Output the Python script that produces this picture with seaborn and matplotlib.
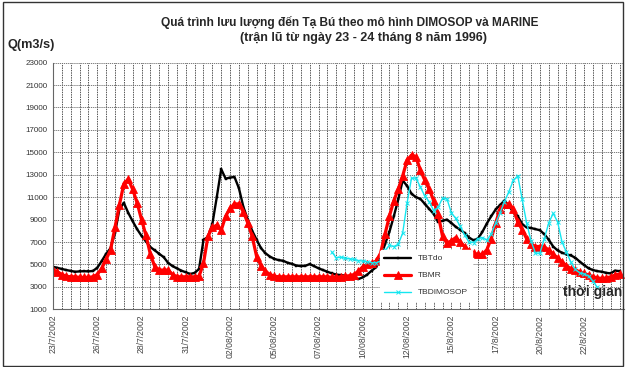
import numpy as np
import pandas as pd
import seaborn as sns
import matplotlib
matplotlib.use("Agg")
import matplotlib.pyplot as plt
from matplotlib.patches import Rectangle
from matplotlib.ticker import MultipleLocator

# ===============================
# Data (6-hourly steps from 23/7/2002)
# ===============================
tb_do = [4790, 4700, 4600, 4500, 4420, 4350, 4380, 4400, 4380, 4420,
         4700, 5300, 5950, 6450, 7800, 9900, 10500, 9600, 8850, 8150,
         7550, 7050, 6550, 6250, 5950, 5650, 5150, 4850, 4650, 4450,
         4300, 4150, 4250, 4600, 7200, 7450, 8600, 11000, 13500, 12650,
         12750, 12800, 11800, 10150, 9000, 8000, 7200, 6450, 6000, 5700,
         5500, 5380, 5330, 5150, 5050, 4900, 4850, 4880, 5030, 4850,
         4650, 4500, 4350, 4200, 4100, 4050, 4000, 3900, 3800, 3700,
         3850, 4100, 4450, 4750, 5600, 6800, 7900, 9300, 10800, 12500,
         12000, 11300, 11000, 10850, 10400, 9950, 9500, 8800, 8900, 9000,
         8700, 8350, 8100, 7800, 7400, 7150, 7300, 7900, 8650, 9300,
         9900, 10300, 10700, 10200, 9700, 9300, 8600, 8300, 8250, 8150,
         8050, 7700, 7200, 6600, 6250, 6050, 5900, 5800, 5600, 5250,
         4950, 4650, 4500, 4400, 4350, 4250, 4200, 4450, 4400]

tb_mr = [4500, 4350, 4100, 3950, 3900, 3900, 3850, 3850, 3850, 3900,
         4100, 4650, 5450, 6300, 8300, 10300, 12200, 12600, 11700, 10500,
         9000, 7600, 5900, 4800, 4500, 4500, 4500, 4100, 3900, 3900,
         3900, 3900, 3900, 3950, 5100, 7500, 8300, 8500, 8050, 9300,
         10000, 10400, 10400, 9700, 8700, 7500, 5700, 4900, 4400, 4100,
         3950, 3900, 3900, 3900, 3900, 3900, 3900, 3900, 3900, 3900,
         3900, 3900, 3900, 3850, 3850, 3900, 3950, 4000, 4100, 4400,
         4800, 5000, 5100, 5300, 6000, 7700, 9300, 10700, 11700, 12900,
         14300, 14750, 14600, 13400, 12500, 11700, 10700, 9500, 7500, 6900,
         7100, 7400, 7000, 6600, 6200, 6000, 5900, 5900, 6300, 7300,
         8700, 9900, 10400, 10400, 9900, 8800, 8100, 7300, 6800, 6600,
         6600, 6550, 6300, 5900, 5600, 5200, 4900, 4600, 4500, 4350,
         4200, 4050, 3900, 3800, 3750, 3800, 3900, 4050, 4150]

# DIMOSOP starts at step 63
dimosop_start = 63
tb_dimosop = [6100, 5600, 5650, 5550, 5500, 5450, 5350,
              5300, 5250, 5150, 5150, 5300, 6250, 6700, 6600, 6800, 7800,
              10500, 12700, 12700, 11900, 11100, 10600, 9800, 10100, 10900, 10850,
              9600, 9100, 8400, 7600, 7000, 6950, 7300, 7400, 7170, 7700,
              8700, 9600, 10600, 11500, 12500, 12900, 10800, 8700, 7100, 6000,
              6000, 7300, 8700, 9550, 8800, 7000, 6100, 5200, 4550, 4250,
              4150, 3950, 3500, 2950]

date_labels = ["23/7/2002", "26/7/2002", "28/7/2002", "31/7/2002", "02/08/2002",
               "05/08/2002", "07/08/2002", "10/08/2002", "12/08/2002", "15/8/2002",
               "17/8/2002", "20/8/2002", "22/8/2002"]
y_ticks = list(range(1000, 23001, 2000))

# ===============================
# Frames
# ===============================
df_do = pd.DataFrame({"t": np.arange(len(tb_do)), "Q": tb_do})
df_mr = pd.DataFrame({"t": np.arange(len(tb_mr)), "Q": tb_mr})
df_dm = pd.DataFrame({"t": np.arange(dimosop_start, dimosop_start + len(tb_dimosop)),
                      "Q": tb_dimosop})

# ===============================
# Plot
# ===============================
sns.set_style("white")
plt.rcParams["font.family"] = ["Liberation Sans", "DejaVu Sans"]

fig = plt.figure(figsize=(6.26, 3.67), dpi=100)
ax = fig.add_axes([53 / 626, 1 - 309.3 / 367, (624 - 53) / 626, (309.3 - 62.6) / 367])

cyan = "#14e6f0"
sns.lineplot(data=df_do, x="t", y="Q", ax=ax, color="black", lw=1.7, ls="-",
             marker="s", markersize=1.5, mew=0.3, mec="black", label="TBTdo")
sns.lineplot(data=df_mr, x="t", y="Q", ax=ax, color="red", lw=2.3, ls="-",
             marker="^", markersize=5.2, mew=0.6, mec="red", label="TBMR")
sns.lineplot(data=df_dm, x="t", y="Q", ax=ax, color=cyan, lw=1.0, ls="-",
             marker="x", markersize=3, mew=0.7, mec=cyan, label="TBDIMOSOP")

ax.set_xlim(0, 129)
ax.set_ylim(1000, 23000)
ax.set_yticks(y_ticks)
ax.set_yticklabels([str(v) for v in y_ticks], fontsize=5.8, color="#333333")
ax.set_xticks(np.arange(0, 121, 10))
ax.set_xticklabels(date_labels, rotation=90, fontsize=6.2, color="#444444")
ax.xaxis.set_minor_locator(MultipleLocator(2))
ax.tick_params(axis="both", which="both", length=0, pad=4)
ax.set_xlabel("")
ax.set_ylabel("")

ax.grid(True, which="both", axis="x", color="#555555", lw=0.7, ls=(0, (1.5, 1)))
ax.grid(True, which="major", axis="y", color="#666666", lw=0.6, ls=(0, (1.5, 1)))
ax.set_axisbelow(True)

for side in ["top", "right"]:
    ax.spines[side].set_visible(False)
for side in ["left", "bottom"]:
    ax.spines[side].set_color("#666666")
    ax.spines[side].set_linewidth(0.8)

leg = ax.legend(loc="lower left", bbox_to_anchor=(0.573, 0.035), fontsize=6,
                frameon=True, facecolor="white", edgecolor="white", framealpha=1,
                handlelength=3.2, labelspacing=1.1, borderaxespad=0, borderpad=0.5)
for txt in leg.get_texts():
    txt.set_color("#333333")

# Titles and labels
fig.text(350 / 626, 1 - 22 / 367, "Quá trình lưu lượng đến Tạ Bú theo mô hình DIMOSOP và MARINE",
         ha="center", va="center", fontsize=8.6, fontweight="bold")
fig.text(363 / 626, 1 - 38 / 367, "(trận lũ từ ngày 23 - 24 tháng 8 năm 1996)",
         ha="center", va="center", fontsize=9.0, fontweight="bold")
fig.text(8 / 626, 1 - 45 / 367, "Q(m3/s)", ha="left", va="center",
         fontsize=9.2, fontweight="bold")
fig.text(563 / 626, 1 - 292 / 367, "thời gian", ha="left", va="center",
         fontsize=10, fontweight="bold")

fig.patches.append(Rectangle((0.004, 0.004), 0.992, 0.99, transform=fig.transFigure,
                             fill=False, ec="#333333", lw=1.0))

plt.savefig("out.png", dpi=100)
